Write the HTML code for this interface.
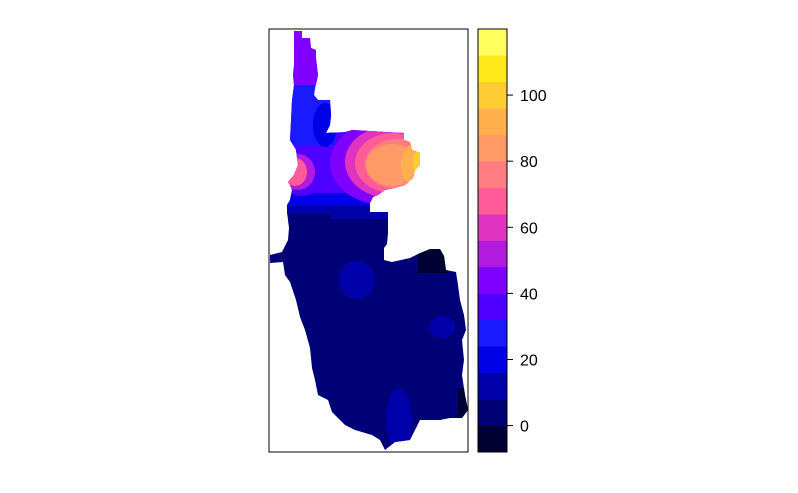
<!DOCTYPE html>
<html><head><meta charset="utf-8"><style>
body{margin:0;background:#fff;}
svg{display:block;font-family:"Liberation Sans",Arial,sans-serif;}
</style></head><body>
<svg id="chart" width="798" height="493">
<defs>
<clipPath id="topclip"><polygon points="294,31 302,31 302,38 310,38 311,48 316,50 316,58 318,75 317,80 315,88 314,95 318,100 330,100 331,115 330,125 326,133 345,132 352,130 370,131 385,132 404,133 404,140 410,142 412,150 420,153 420,165 415,170 413,178 405,185 395,188 385,190 378,195 373,197 370,203 370,214 287,214 287,205 290,200 292,190 290,185 288,182 294,175 298,165 296,150 290,140 291,120 292,100 294,85 293,75 294,65 294,55 294,40"/></clipPath>
<clipPath id="botclip"><polygon points="287,212 388,212 388,233 387,244 384,248 384,260 392,262 410,258 418,254 430,249 440,249 444,256 446,270 456,272 458,285 460,300 464,315 466,330 462,340 464,360 462,375 465,395 468,410 462,418 450,418 440,420 420,420 410,440 395,442 385,450 380,440 372,435 355,430 345,425 332,412 328,400 318,395 315,380 312,368 310,348 305,330 300,317 296,300 290,282 285,275 283,262 270,263 270,255 282,252 288,240 289,228"/></clipPath>
</defs>
<g>
<g clip-path="url(#botclip)">
<rect x="265" y="205" width="210" height="250" fill="#000077"/>
<rect x="418" y="245" width="30" height="28" fill="#000033"/>
<rect x="458" y="388" width="12" height="32" fill="#000033"/>
<ellipse cx="357" cy="280" rx="18" ry="19" fill="#0000AA"/>
<ellipse cx="442" cy="327" rx="13" ry="11" fill="#0000AA"/>
<ellipse cx="399" cy="420" rx="13" ry="32" fill="#0000AA"/>
<rect x="330" y="205" width="58" height="14" fill="#0000AA"/>
</g>
<g clip-path="url(#topclip)">
<rect x="280" y="25" width="150" height="195" fill="#4D00FF"/>
<rect x="280" y="25" width="50" height="60" fill="#8000FF"/>
<rect x="290" y="85" width="45" height="60" fill="#1A1AFF"/>
<ellipse cx="325" cy="125" rx="12" ry="22" fill="#0000E6"/>
<rect x="280" y="193" width="100" height="14" fill="#0000E6"/>
<rect x="280" y="206" width="100" height="10" fill="#0000AA"/>
<ellipse cx="385" cy="163" rx="55" ry="42" fill="#8000FF"/>
<ellipse cx="390" cy="162" rx="45" ry="36" fill="#E033C0"/>
<ellipse cx="393" cy="163" rx="38" ry="30" fill="#FF5C99"/>
<ellipse cx="397" cy="164" rx="32" ry="25" fill="#FF7C80"/>
<ellipse cx="392" cy="165" rx="26" ry="21" fill="#FF9966"/>
<ellipse cx="425" cy="165" rx="24" ry="26" fill="#FFB04C"/>
<ellipse cx="430" cy="163" rx="17" ry="20" fill="#FFCC33"/>
<ellipse cx="432" cy="160" rx="12" ry="14" fill="#FFE81A"/>
<ellipse cx="302" cy="172" rx="24" ry="24" fill="#4D00FF"/>
<ellipse cx="298" cy="172" rx="17" ry="18" fill="#B31AE0"/>
<ellipse cx="295" cy="172" rx="12" ry="14" fill="#FF5C99"/>
</g>
</g>
<rect x="269" y="29" width="199" height="423" fill="none" stroke="#000" stroke-width="1"/>
<g id="legend"></g>
</svg>
<script>
const breaks=[-8,0,8,16,24,32,40,48,56,64,72,80,88,96,104,112,120];
const colors=["#000033","#000077","#0000AA","#0000E6","#1A1AFF","#4D00FF","#8000FF","#B31AE0","#E033C0","#FF5C99","#FF7C80","#FF9966","#FFB04C","#FFCC33","#FFE81A","#FFFF60"];
const tickValues=[0,20,40,60,80,100];
const ns="http://www.w3.org/2000/svg";
const lg=document.getElementById('legend');
const x0=478,x1=507,yTop=29,yBot=452;
const vmin=breaks[0],vmax=breaks[breaks.length-1];
function y(v){return yBot-(v-vmin)/(vmax-vmin)*(yBot-yTop);}
for(let i=0;i<colors.length;i++){
  const r=document.createElementNS(ns,'rect');
  r.setAttribute('x',x0);r.setAttribute('y',y(breaks[i+1]));
  r.setAttribute('width',x1-x0);r.setAttribute('height',y(breaks[i])-y(breaks[i+1])+0.3);
  r.setAttribute('fill',colors[i]);
  
  
  lg.appendChild(r);
}
const fr=document.createElementNS(ns,'rect');
fr.setAttribute('x',x0);fr.setAttribute('y',yTop);fr.setAttribute('width',x1-x0);fr.setAttribute('height',yBot-yTop);
fr.setAttribute('fill','none');fr.setAttribute('stroke','#000');


lg.appendChild(fr);
tickValues.forEach(v=>{
  const l=document.createElementNS(ns,'line');
  l.setAttribute('x1',x1);l.setAttribute('x2',x1+6);l.setAttribute('y1',y(v));l.setAttribute('y2',y(v));
  l.setAttribute('stroke','#000');
  
  
  lg.appendChild(l);
  const t=document.createElementNS(ns,'text');
  t.setAttribute('x',520);t.setAttribute('y',y(v)+6);t.setAttribute('font-size','16');
  t.textContent=v;
  
  
  lg.appendChild(t);
});
</script>
</body></html>
